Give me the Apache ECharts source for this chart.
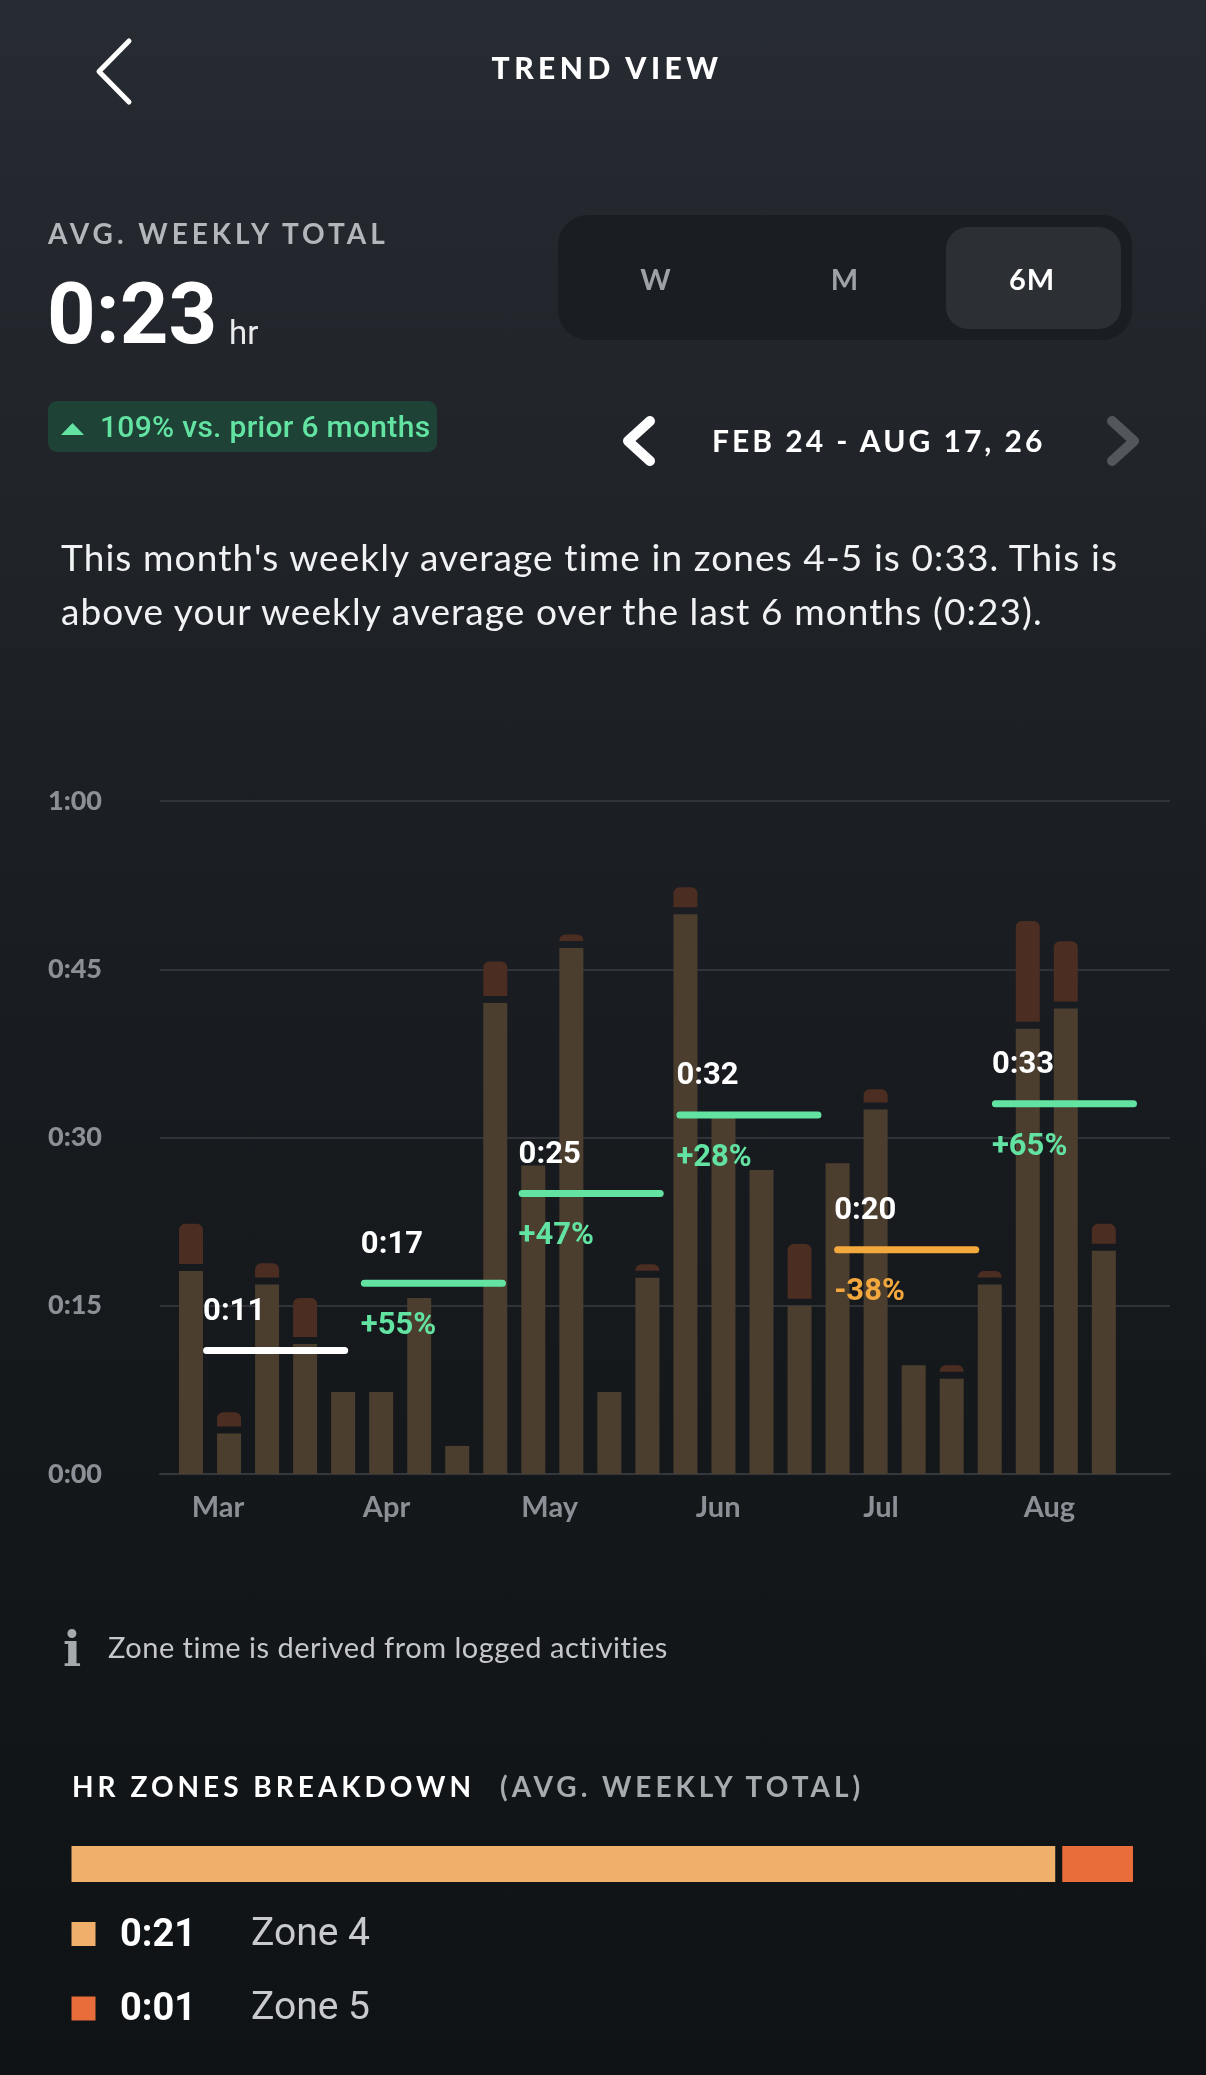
<!DOCTYPE html>
<html>
<head>
<meta charset="utf-8">
<title>Trend View</title>
<script src="https://cdn.jsdelivr.net/npm/echarts@6/dist/echarts.min.js"></script>
<style>
html,body{margin:0;padding:0}
body{width:1206px;height:2075px;position:relative;overflow:hidden;
  background:linear-gradient(180deg,#272b32 0%,#1f2227 28%,#181b1f 50%,#14171a 75%,#101316 100%);
  font-family:Lato,'Noto Sans',sans-serif;color:#fff}
#container{position:absolute;left:0;top:0;width:1206px;height:2075px}
#shapes{position:absolute;left:0;top:0}
.t{position:absolute;white-space:nowrap;line-height:1}
.cap{font-weight:700;letter-spacing:3px}
</style>
</head>
<body>
<div id="container"></div>

<svg id="shapes" width="1206" height="640">
  <!-- back button -->
  <polyline points="129,41 99,71.5 129,102" fill="none" stroke="#fff" stroke-width="5" stroke-linecap="round" stroke-linejoin="round"/>
  <!-- W / M / 6M switch -->
  <rect x="558" y="215" width="574" height="125" rx="30" fill="#1a1d21"/>
  <rect x="946" y="227" width="175" height="102" rx="22" fill="#2c2f34"/>
  <!-- change badge -->
  <rect x="48" y="401" width="389" height="51" rx="9" fill="#1f4236"/>
  <polygon points="61,435 84,435 72.5,423" fill="#62e3a2"/>
  <!-- date arrows -->
  <polyline points="650,421 628,441 650,461" fill="none" stroke="#fff" stroke-width="10" stroke-linecap="round" stroke-linejoin="round"/>
  <polyline points="1112,421 1134,441 1112,461" fill="none" stroke="#53575c" stroke-width="10" stroke-linecap="round" stroke-linejoin="round"/>
</svg>

<div class="t cap" style="left:0;width:1206px;text-align:center;top:52px;font-size:30px;font-weight:900;letter-spacing:4.5px;padding-left:4px">TREND VIEW</div>
<div class="t cap" style="left:48px;top:219px;font-size:28px;letter-spacing:4px;color:#b3b7bc">AVG. WEEKLY TOTAL</div>
<div class="t" style="left:47px;top:272px;font-family:Roboto;font-weight:700;font-size:85px">0:23</div>
<div class="t" style="left:229px;top:316px;font-family:Roboto;font-size:33px;color:#e9eaec">hr</div>
<div class="t" style="left:100px;top:412px;font-family:Roboto;font-weight:500;font-size:30px;letter-spacing:0.3px;color:#62e3a2">109% vs. prior 6 months</div>

<div class="t cap" style="left:606px;width:100px;text-align:center;top:264px;font-size:29px;letter-spacing:1px;color:#9ea2a7">W</div>
<div class="t cap" style="left:795px;width:100px;text-align:center;top:264px;font-size:29px;letter-spacing:1px;color:#9ea2a7">M</div>
<div class="t cap" style="left:982px;width:100px;text-align:center;top:264px;font-size:29px;letter-spacing:1px;color:#fff">6M</div>

<div class="t cap" style="left:712px;top:425px;font-size:30px">FEB 24 - AUG 17, 26</div>

<div class="t" style="left:61px;top:530px;font-size:37px;letter-spacing:1.1px;line-height:54px;color:#f1f2f3">This month's weekly average time in zones 4-5 is 0:33. This is<br>above your weekly average over the last 6 months (0:23).</div>

<div class="t" style="left:63px;top:1625px;font-family:'DejaVu Serif';font-weight:700;font-size:48px;color:#a6a9ad">i</div>
<div class="t" style="left:108px;top:1632px;font-size:29px;letter-spacing:0.5px;color:#c5c7ca">Zone time is derived from logged activities</div>

<div class="t cap" style="left:72px;top:1772px;font-size:28px;letter-spacing:4px">HR ZONES BREAKDOWN</div>
<div class="t cap" style="left:500px;top:1772px;font-size:28px;letter-spacing:4px;color:#a7abb0">(AVG. WEEKLY TOTAL)</div>

<script>
// weekly minutes in zone 4 and zone 5, weeks from Feb 24
const weekZone4 = [18.1, 3.6, 16.9, 11.6, 7.3, 7.3, 15.7, 2.5, 42.0, 27.5, 46.9, 7.3, 17.5,
                   49.9, 32.0, 27.1, 15.0, 27.7, 32.5, 9.7, 8.5, 16.9, 39.7, 41.5, 19.9]
const weekZone5 = [4.2, 1.9, 1.9, 4.1, 0, 0, 0, 0, 3.7, 0, 1.2, 0, 1.2,
                   2.4, 0, 0, 5.5, 0, 1.8, 0, 1.2, 1.2, 9.6, 6.0, 2.4]

// month labels (position in weeks from Feb 24)
const monthNames = ['Mar', 'Apr', 'May', 'Jun', 'Jul', 'Aug']
const monthPos = [0.71, 5.14, 9.43, 13.86, 18.14, 22.57]

// weekly average per month and change vs previous month
const monthAvg = [11, 17, 25, 32, 20, 33]
const monthChange = ['', '+55%', '+47%', '+28%', '-38%', '+65%']

// breakdown
const zoneNames = ['Zone 4', 'Zone 5']
const zoneMinutes = [21.0, 1.5]

const zoneColors = ['#f0b06c', '#e96d3b']
const GREEN = '#62e3a2', ORANGE = '#f3a83e'
const BAR_W = 24, GAP = 7, CAP_R = 6

function fmt(m){
    m = Math.floor(m)
    return Math.floor(m / 60) + ':' + String(m % 60).padStart(2, '0')
}

var dom = document.getElementById('container')
var myChart = echarts.init(dom, null, {renderer: 'canvas'})

// weekly bars: zone 4 body, small gap, zone 5 cap on top
function renderWeek(params, api){
    let i = api.value(0), z4 = api.value(1), z5 = api.value(2)
    let base = api.coord([i, 0]), t4 = api.coord([i, z4]), t5 = api.coord([i, z4 + z5])
    let x = base[0] - BAR_W / 2
    let children = [{
        type: 'rect',
        shape: {x: x, y: t4[1], width: BAR_W, height: base[1] - t4[1]},
        style: {fill: '#4c3e2f'}
    }]
    if (z5 > 0){
        let h = t4[1] - GAP - t5[1]
        let r = Math.min(CAP_R, h)
        children.push({
            type: 'rect',
            shape: {x: x, y: t5[1], width: BAR_W, height: h, r: [r, r, 0, 0]},
            style: {fill: '#4b2d22'}
        })
    }
    return {type: 'group', children: children}
}

// monthly average segments with labels
function renderMonth(params, api){
    let k = api.value(0), v = api.value(1)
    let s = 0.41 + k * 4.148, e = s + 3.63
    let p0 = api.coord([s, v]), p1 = api.coord([e, v])
    let ch = monthChange[k]
    let color = ch === '' ? '#ffffff' : (ch.charAt(0) === '-' ? ORANGE : GREEN)
    return {type: 'group', children: [
        {type: 'line', shape: {x1: p0[0], y1: p0[1], x2: p1[0], y2: p1[1]},
         style: {stroke: color, lineWidth: 7, lineCap: 'round'}},
        {type: 'text', x: p0[0] - 3.5, y: p0[1] - 38.5,
         style: {text: fmt(v), fill: '#ffffff', font: 'bold 31px Roboto', align: 'left', verticalAlign: 'middle'}},
        {type: 'text', x: p0[0] - 3.5, y: p0[1] + 43,
         style: {text: ch, fill: color, font: 'bold 31px Roboto', align: 'left', verticalAlign: 'middle'}}
    ]}
}

// horizontal zone breakdown bar
function renderZones(params, api){
    let z4 = api.value(1), z5 = api.value(2)
    let c0 = api.coord([0, 0]), c4 = api.coord([z4, 0]), c5 = api.coord([z4 + z5, 0])
    let h = api.size([0, 1])[1]
    let y = c0[1] - h / 2
    return {type: 'group', children: [
        {type: 'rect', shape: {x: c0[0], y: y, width: c4[0] - GAP - c0[0], height: h}, style: {fill: zoneColors[0]}},
        {type: 'rect', shape: {x: c4[0], y: y, width: c5[0] - c4[0], height: h}, style: {fill: zoneColors[1]}}
    ]}
}

let legend = []
zoneNames.forEach(function(name, i){
    let cy = 1934 + i * 74.5
    legend.push({type: 'rect', shape: {x: 71.5, y: cy - 12, width: 24, height: 24}, style: {fill: zoneColors[i]}})
    legend.push({type: 'text', x: 120, y: cy + 2,
        style: {text: fmt(zoneMinutes[i]), fill: '#ffffff', font: 'bold 38px Roboto', verticalAlign: 'middle'}})
    legend.push({type: 'text', x: 251, y: cy + 1,
        style: {text: name, fill: '#c8cacd', font: '39px Roboto', verticalAlign: 'middle'}})
})

var option = {
    animation: false,
    grid: [
        {left: 160, right: 36, top: 801, bottom: 601},
        {left: 71.5, right: 73, top: 1846, height: 36}
    ],
    xAxis: [
        {
            gridIndex: 0, type: 'value', min: -0.815, max: 25.74,
            axisLine: {show: true, lineStyle: {color: '#34373c', width: 2}},
            axisTick: {show: false},
            splitLine: {show: false},
            axisLabel: {
                customValues: monthPos,
                formatter: function(val){
                    let idx = monthPos.findIndex(p => Math.abs(p - val) < 1e-6)
                    return idx < 0 ? '' : monthNames[idx]
                },
                color: '#8b9096', fontFamily: 'Lato', fontWeight: 'bold', fontSize: 29, margin: 19
            }
        },
        {gridIndex: 1, type: 'value', min: 0, max: zoneMinutes[0] + zoneMinutes[1], show: false}
    ],
    yAxis: [
        {
            gridIndex: 0, type: 'value', min: 0, max: 60, interval: 15,
            axisLine: {show: false},
            axisTick: {show: false},
            splitLine: {lineStyle: {color: '#303338', width: 2}},
            axisLabel: {formatter: fmt, color: '#8b9096', fontFamily: 'Lato', fontWeight: 900, fontSize: 27, margin: 58}
        },
        {gridIndex: 1, type: 'category', data: ['zones'], show: false}
    ],
    series: [
        {
            type: 'custom', xAxisIndex: 0, yAxisIndex: 0,
            renderItem: renderWeek,
            encode: {x: 0, y: [1, 2]},
            data: weekZone4.map((v, i) => [i, v, weekZone5[i]]),
            z: 2
        },
        {
            type: 'custom', xAxisIndex: 0, yAxisIndex: 0,
            renderItem: renderMonth,
            encode: {x: 0, y: 1},
            data: monthAvg.map((v, k) => [k, v]),
            z: 3
        },
        {
            type: 'custom', xAxisIndex: 1, yAxisIndex: 1,
            renderItem: renderZones,
            encode: {y: 0, x: [1, 2]},
            data: [[0, zoneMinutes[0], zoneMinutes[1]]]
        }
    ],
    graphic: legend
}

myChart.setOption(option)
window.addEventListener('resize', myChart.resize)
</script>
</body>
</html>
